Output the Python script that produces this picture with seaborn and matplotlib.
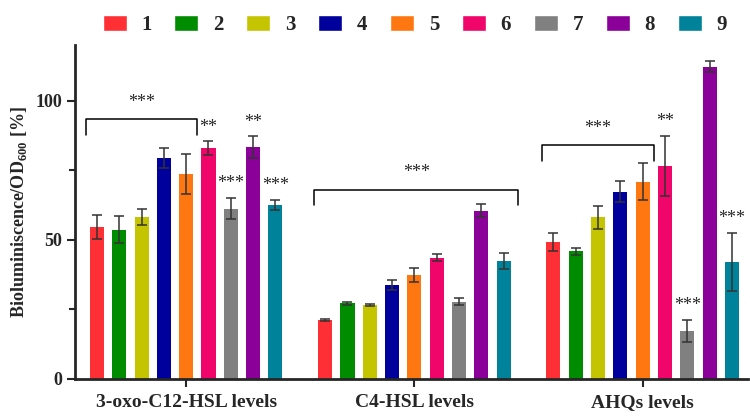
import pandas as pd
import numpy as np
import matplotlib.pyplot as plt
import seaborn as sns
from matplotlib.patches import Patch
from matplotlib.ticker import MultipleLocator

groups = ["3-oxo-C12-HSL levels", "C4-HSL levels", "AHQs levels"]
strains = ["1", "2", "3", "4", "5", "6", "7", "8", "9"]
colors = ["#FF3035", "#008C00", "#C4C400", "#00009C", "#FF7711",
          "#F0056A", "#808080", "#8A0099", "#00829A"]

mean_oxo = [54.5, 53.6, 58.2, 79.3, 73.6, 82.8, 61.2, 83.3, 62.6]
sd_oxo = [4.3, 4.8, 2.8, 3.5, 7.2, 2.5, 3.8, 3.8, 1.8]
mean_c4 = [21.2, 27.2, 26.6, 33.6, 37.2, 43.5, 27.8, 60.5, 42.3]
sd_c4 = [0.5, 0.6, 0.3, 1.8, 2.5, 1.3, 1.4, 2.2, 2.8]
mean_ahq = [49.3, 45.9, 58.0, 67.3, 70.9, 76.6, 17.2, 112.1, 42.1]
sd_ahq = [3.2, 1.3, 4.3, 3.7, 6.7, 10.8, 4.0, 2.0, 10.5]

# single-bar significance marks: (group index, strain index, label)
stars = [(0, 5, "**"), (0, 6, "***"), (0, 7, "**"), (0, 8, "***"),
         (2, 5, "**"), (2, 6, "***"), (2, 8, "***")]
# brackets: (group index, first strain, last strain, height, label)
brackets = [(0, 0, 4, 93.2, "***"), (1, 0, 8, 68.0, "***"), (2, 0, 4, 83.9, "***")]

means = [mean_oxo, mean_c4, mean_ahq]
sds = [sd_oxo, sd_c4, sd_ahq]
rows = []
for g, m, s in zip(groups, means, sds):
    for st, mv, sv in zip(strains, m, s):
        rows.append({"group": g, "strain": st, "mean": mv, "sd": sv})
df = pd.DataFrame(rows)

sns.set_style("ticks")
plt.rcParams["font.family"] = ["Liberation Serif", "DejaVu Serif"]
plt.rcParams["mathtext.fontset"] = "custom"
plt.rcParams["mathtext.rm"] = "Liberation Serif:bold"
plt.rcParams["mathtext.bf"] = "Liberation Serif:bold"

fig = plt.figure(figsize=(7.5, 4.19), dpi=100)
ax = fig.add_axes([0.1, 0.0955, 0.897, 0.7975])
sns.barplot(data=df, x="group", y="mean", hue="strain", palette=colors,
            order=groups, hue_order=strains, width=0.88, gap=0.37,
            errorbar=None, legend=False, linewidth=0, saturation=1, ax=ax)

# bar centres from the drawn patches (ordered hue-major)
centres = {}
for i, p in enumerate(ax.patches[:len(groups) * len(strains)]):
    h = i // len(groups)
    g = i % len(groups)
    centres[(g, h)] = p.get_x() + p.get_width() / 2

for g in range(len(groups)):
    for h in range(len(strains)):
        ax.errorbar(centres[(g, h)], means[g][h], yerr=sds[g][h], fmt="none",
                    ecolor="#333333", elinewidth=1.1, capsize=3.5, capthick=1.1)

for g, h, lab in stars:
    ax.text(centres[(g, h)], means[g][h] + sds[g][h] + 2.0, lab, ha="center",
            va="bottom", fontsize=13)

slot = 0.88 / len(strains)
for g, a, b, y, lab in brackets:
    x0 = centres[(g, a)] - 0.5 * slot
    if b == len(strains) - 1:
        x1 = centres[(g, b)] + 0.65 * slot
    else:
        x1 = (centres[(g, b)] + centres[(g, b + 1)]) / 2
    ax.plot([x0, x0, x1, x1], [y - 5.5, y, y, y - 5.5], color="black", lw=1.1)
    ax.text((x0 + x1) / 2, y + 3.0, lab, ha="center", va="bottom", fontsize=13)

ax.set_xlim(-0.487, 2.46)
ax.set_ylim(0, 120)
ax.set_yticks([0, 50, 100])
ax.yaxis.set_minor_locator(MultipleLocator(25))
ax.set_xlabel("")
ax.set_ylabel("Bioluminiscence/OD$_{600}$ [%]", fontsize=13, fontweight="bold")
ax.tick_params(axis="y", which="major", labelsize=13, width=1.5, length=6)
ax.tick_params(axis="x", which="major", labelsize=14, width=1.5, length=6, pad=5)
ax.tick_params(axis="y", which="minor", width=1.5, length=4)
for lab in ax.get_xticklabels() + ax.get_yticklabels():
    lab.set_fontweight("bold")
for sp in ["left", "bottom"]:
    ax.spines[sp].set_linewidth(2)
sns.despine(ax=ax)

handles = [Patch(facecolor=c, label=s) for c, s in zip(colors, strains)]
fig.legend(handles=handles, loc="upper center", bbox_to_anchor=(0.553, 1.0),
           ncol=9, frameon=False, prop={"weight": "bold", "size": 15},
           handlelength=1.15, handleheight=0.8, columnspacing=1.1, handletextpad=0.7,
           borderaxespad=0.3)

fig.savefig("out.png", dpi=100)
